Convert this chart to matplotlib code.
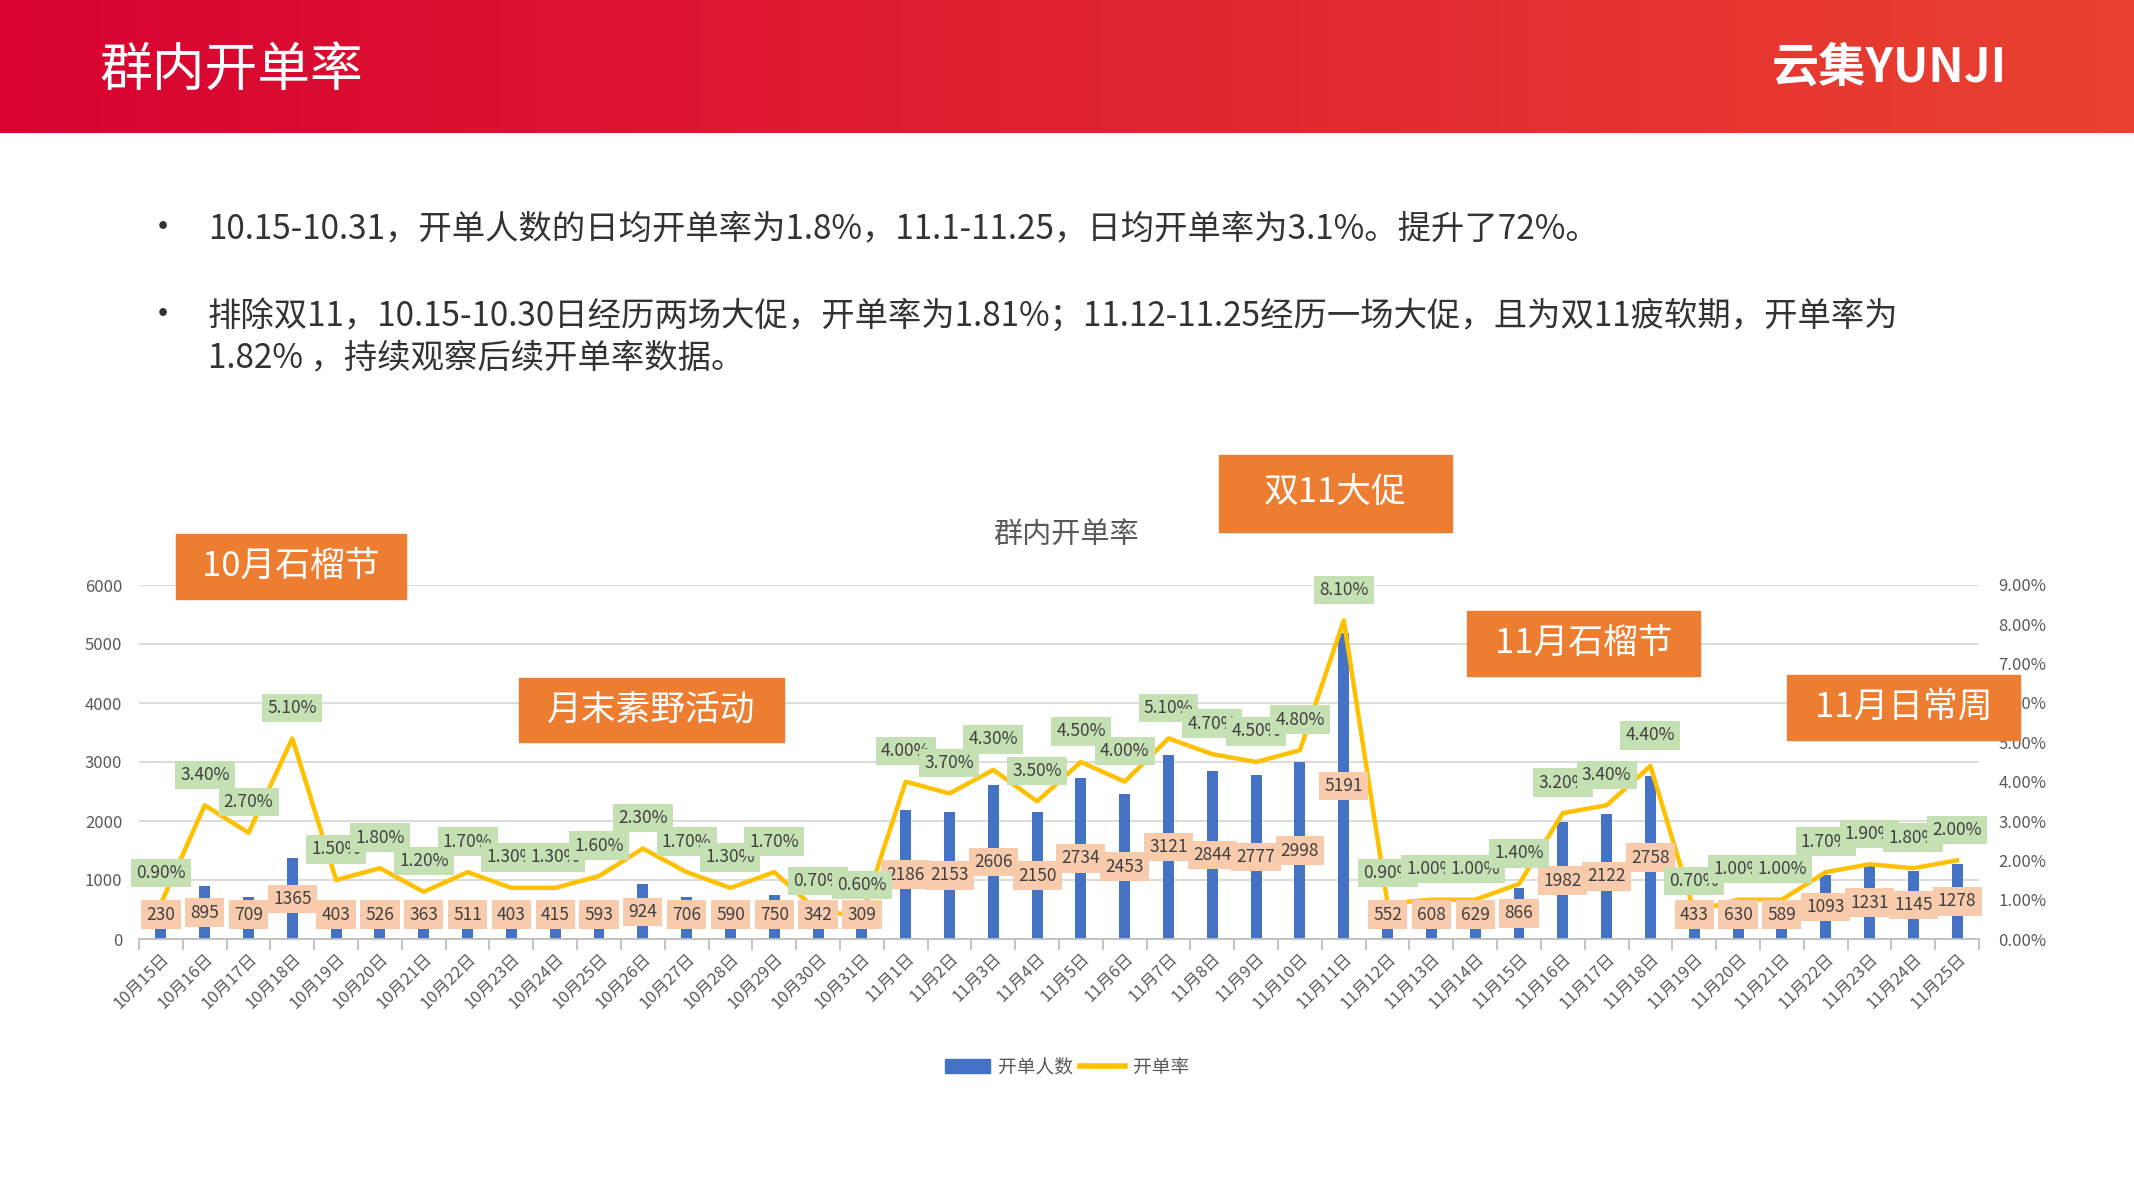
import numpy as np
import matplotlib
matplotlib.use('Agg')
import matplotlib.pyplot as plt
from matplotlib.patches import Rectangle, Patch
from matplotlib.lines import Line2D
from matplotlib.ticker import MultipleLocator, FuncFormatter

plt.rcParams['font.family'] = ['Noto Sans CJK SC', 'DejaVu Sans']

W, H = 2134, 1200

# data
days = [f'10月{d}日' for d in range(15, 32)] + [f'11月{d}日' for d in range(1, 26)]
openers = [230, 895, 709, 1365, 403, 526, 363, 511, 403, 415, 593, 924, 706, 590, 750, 342, 309,
           2186, 2153, 2606, 2150, 2734, 2453, 3121, 2844, 2777, 2998, 5191,
           552, 608, 629, 866, 1982, 2122, 2758,
           433, 630, 589, 1093, 1231, 1145, 1278]
rates = [0.9, 3.4, 2.7, 5.1, 1.5, 1.8, 1.2, 1.7, 1.3, 1.3, 1.6, 2.3, 1.7, 1.3, 1.7, 0.7, 0.6,
         4.0, 3.7, 4.3, 3.5, 4.5, 4.0, 5.1, 4.7, 4.5, 4.8, 8.1,
         0.9, 1.0, 1.0, 1.4, 3.2, 3.4, 4.4,
         0.7, 1.0, 1.0, 1.7, 1.9, 1.8, 2.0]
# bullet lines: (text, y centre in px, show bullet)
bullet_lines = [
    ('10.15-10.31，开单人数的日均开单率为1.8%，11.1-11.25，日均开单率为3.1%。提升了72%。', 229, True),
    ('排除双11，10.15-10.30日经历两场大促，开单率为1.81%；11.12-11.25经历一场大促，且为双11疲软期，开单率为', 316, True),
    ('1.82% ，持续观察后续开单率数据。', 358, False),
]
# callouts: text, (left, top, right, bottom) in pixels
callouts = [
    ('10月石榴节', (176, 534, 406, 599)),
    ('月末素野活动', (519, 678, 784, 742)),
    ('双11大促', (1219, 455, 1452, 532)),
    ('11月石榴节', (1467, 611, 1700, 676)),
    ('11月日常周', (1787, 675, 2020, 740)),
]

BLUE = '#4472C4'
GOLD = '#FFC000'
GRAY = '#595959'

fig = plt.figure(figsize=(W / 100, H / 100), dpi=100)
fig.patch.set_facecolor('white')

# header band
hdr = fig.add_axes([0, 1 - 133 / H, 1, 133 / H])
c0 = np.array([215, 2, 48]) / 255
c1 = np.array([233, 66, 48]) / 255
t = np.linspace(0, 1, 256)[:, None]
grad = (c0 * (1 - t) + c1 * t)[None, :, :]
hdr.imshow(grad, aspect='auto', extent=[0, 1, 0, 1])
hdr.axis('off')
fig.text(99 / W, 1 - 70 / H, '群内开单率', color='white', fontsize=38, va='center', ha='left')
fig.text(2007 / W, 1 - 68 / H, '云集YUNJI', color='white', fontsize=34, fontweight='bold',
         va='center', ha='right')

# bullets
for text, yc, dot in bullet_lines:
    if dot:
        fig.text(163 / W, 1 - yc / H, '•', fontsize=26, color='#333333', va='center', ha='center')
    fig.text(208 / W, 1 - yc / H, text, fontsize=24, color='#333333', va='center',
             fontweight='light')

# chart
ax = fig.add_axes([139 / W, 1 - 939 / H, (1979 - 139) / W, (939 - 585) / H])
x = np.arange(len(days))
ax.bar(x, openers, width=0.25, color=BLUE, zorder=2)
ax.set_xlim(-0.5, len(days) - 0.5)
ax.set_ylim(0, 6000)
ax.yaxis.set_major_locator(MultipleLocator(1000))
ax.grid(axis='y', color='#D9D9D9', linewidth=1.3)
ax.set_axisbelow(True)
for s in ['top', 'right', 'left']:
    ax.spines[s].set_visible(False)
ax.spines['bottom'].set_color('#BFBFBF')
ax.spines['bottom'].set_linewidth(1.3)
ax.tick_params(axis='y', length=0, labelsize=12, labelcolor=GRAY, pad=12)
ax.set_xticks(x)
ax.set_xticklabels(days, rotation=45, ha='right', rotation_mode='anchor', fontsize=12, color=GRAY)
ax.tick_params(axis='x', which='major', length=0, pad=8)
ax.set_xticks(np.arange(-0.5, len(days), 1), minor=True)
ax.tick_params(axis='x', which='minor', length=8, color='#BFBFBF', width=1.3)

ax2 = ax.twinx()
ax2.plot(x, np.array(rates) / 100, color=GOLD, linewidth=3.2, zorder=3)
ax2.set_ylim(0, 0.09)
ax2.yaxis.set_major_locator(MultipleLocator(0.01))
ax2.yaxis.set_major_formatter(FuncFormatter(lambda v, p: f'{v * 100:.2f}%'))
ax2.tick_params(axis='y', length=0, labelsize=12, labelcolor=GRAY, pad=14)
for s in ax2.spines.values():
    s.set_visible(False)

# data labels
for xi, v in zip(x, openers):
    ax2.annotate(str(v), xy=(xi, max(v / 2, 415)), xycoords=ax.transData,
                 ha='center', va='center', fontsize=12.5, color='#404040', zorder=5,
                 bbox=dict(boxstyle='square,pad=0.3', fc='#F8CBAD', ec='none'))
for xi, r in zip(x, rates):
    ax2.annotate(f'{r:.2f}%', xy=(xi, r / 100), xytext=(0, 22), textcoords='offset points',
                 ha='center', va='center', fontsize=12.5, color='#404040', zorder=6,
                 bbox=dict(boxstyle='square,pad=0.3', fc='#C5E0B3', ec='none'))

fig.text(1066 / W, 1 - 535 / H, '群内开单率', fontsize=21, color=GRAY, ha='center', va='center')

handles = [Patch(color=BLUE), Line2D([0], [0], color=GOLD, linewidth=4)]
fig.legend(handles, ['开单人数', '开单率'], loc='center', bbox_to_anchor=(0.5, 1 - 1067 / H),
           ncol=2, frameon=False, fontsize=13.5, labelcolor=GRAY, handlelength=2.4,
           columnspacing=0.4, handletextpad=0.4)

# callout boxes
for text, (l, tp, r, b) in callouts:
    fig.add_artist(Rectangle((l / W, 1 - b / H), (r - l) / W, (b - tp) / H,
                             transform=fig.transFigure, color='#ED7D31', zorder=10))
    fig.text((l + r) / 2 / W, 1 - (tp + b) / 2 / H, text, color='white', fontsize=25,
             ha='center', va='center', zorder=11)

fig.savefig('out.png', dpi=100)
